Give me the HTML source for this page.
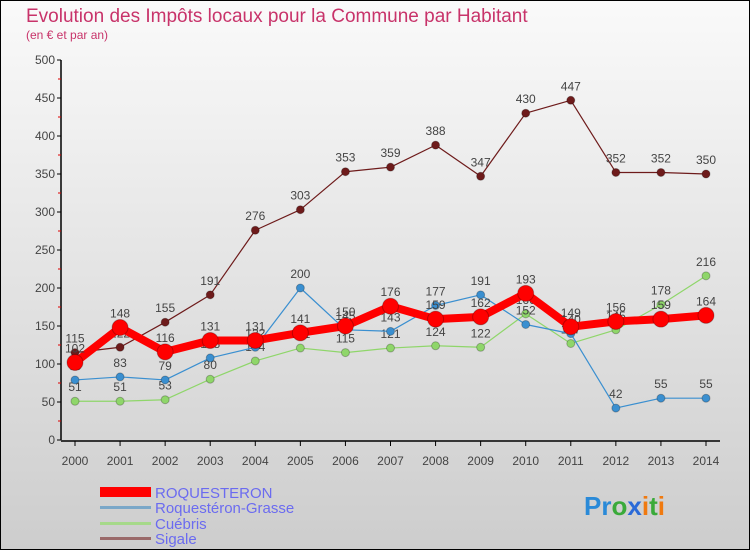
<!DOCTYPE html>
<html><head><meta charset="utf-8"><style>
body{margin:0}
svg{display:block;font-family:"Liberation Sans",sans-serif}
</style></head><body>
<svg width="750" height="550" viewBox="0 0 750 550" xmlns="http://www.w3.org/2000/svg">
<defs><linearGradient id="bg" x1="0" y1="0" x2="0" y2="1"><stop offset="0" stop-color="#fafafa"/><stop offset="1" stop-color="#cdcdcd"/></linearGradient></defs>
<rect x="0.5" y="0.5" width="749" height="549" fill="url(#bg)" stroke="#000"/>
<text x="26" y="22" font-size="19" fill="#c8336a">Evolution des Impôts locaux pour la Commune par Habitant</text>
<text x="26" y="39" font-size="12" fill="#c8336a">(en € et par an)</text>
<g id="axes"></g>
<g id="series"></g>
<g>
<rect x="100" y="487" width="51" height="10" fill="#f00"/>
<text x="155" y="498" font-size="15" fill="#6b6bf0">ROQUESTERON</text>
<rect x="100" y="506" width="51" height="3" fill="#7aa7c8"/>
<text x="155" y="513" font-size="15" fill="#6b6bf0">Roquestéron-Grasse</text>
<rect x="100" y="522" width="51" height="3" fill="#a6d98a"/>
<text x="155" y="529" font-size="15" fill="#6b6bf0">Cuébris</text>
<rect x="100" y="537" width="51" height="3" fill="#9a6a6a"/>
<text x="155" y="544" font-size="15" fill="#6b6bf0">Sigale</text>
</g>
<text x="584" y="515" font-size="26" font-weight="bold"><tspan fill="#2a8ad8">Pr</tspan><tspan fill="#3aaa3a">o</tspan><tspan fill="#2a6ad8">x</tspan><tspan fill="#f07a10">i</tspan><tspan fill="#3aaa3a">t</tspan><tspan fill="#f07a10">i</tspan></text>
</svg>
<script>
const years=["2000","2001","2002","2003","2004","2005","2006","2007","2008","2009","2010","2011","2012","2013","2014"];
const yTicks=[0,50,100,150,200,250,300,350,400,450,500];
const roquesteron=[102,148,116,131,131,141,150,176,159,162,193,149,156,159,164];
const roqGrasse=[79,83,79,108,122,200,145,143,177,191,152,140,42,55,55];
const cuebris=[51,51,53,80,104,121,115,121,124,122,166,127,145,178,216];
const sigale=[115,122,155,191,276,303,353,359,388,347,430,447,352,352,350];
const NS="http://www.w3.org/2000/svg";
const X=i=>75+i*(706-75)/(years.length-1);
const Y=v=>440-v*0.76;
function mk(tag,attrs,parent,txt){const e=document.createElementNS(NS,tag);for(const k in attrs)e.setAttribute(k,attrs[k]);if(txt!==undefined)e.textContent=txt;parent.appendChild(e);return e;}
const ax=document.getElementById('axes');
let yl=mk('line',{x1:61,y1:Y(500),x2:61,y2:Y(0),stroke:'#000','stroke-width':1.5},ax);


let xl=mk('line',{x1:61,y1:Y(0)+1,x2:720,y2:Y(0)+1,stroke:'#000','stroke-width':1.5},ax);


yTicks.forEach((t,i)=>{
 mk('line',{x1:57,y1:Y(t),x2:61,y2:Y(t),stroke:'#000'},ax);
 if(i<yTicks.length-1)mk('line',{x1:58,y1:Y(t+25),x2:61,y2:Y(t+25),stroke:'#d00'},ax);
 const l=mk('text',{x:55,y:Y(t)+4,'font-size':12,fill:'#444','text-anchor':'end'},ax,String(t));
 
 
});
years.forEach((yr,i)=>{
 mk('line',{x1:X(i),y1:Y(0)+1,x2:X(i),y2:Y(0)+6,stroke:'#000'},ax);
 const l=mk('text',{x:X(i),y:465,'font-size':12,fill:'#444','text-anchor':'middle'},ax,yr);
 
 
});
const sg=document.getElementById('series');
function draw(data,name,color,w,r,above){
 const g=mk('g',{},sg);
 
 
 const p=mk('polyline',{points:data.map((v,i)=>X(i)+','+Y(v)).join(' '),fill:'none',stroke:color,'stroke-width':w,'stroke-linejoin':'round'},g);
 
 
 data.forEach((v,i)=>{
  const c=mk('circle',{cx:X(i),cy:Y(v),r:r,fill:color,stroke:'rgba(0,0,0,0.25)'},g);
  
  
  const t=mk('text',{x:X(i),y:Y(v)+(above?-10:-8),'font-size':12,fill:'#444','text-anchor':'middle'},g,String(v));
  
  
 });
}
draw(sigale,'sigale','#6e1b1b',1.2,4,true);
draw(cuebris,'cuebris','#8fd66a',1.2,4,true);
draw(roqGrasse,'roquesteron-grasse','#3a8fd0',1.2,4,true);
draw(roquesteron,'roquesteron','#f00',8,8,true);
</script>
</body></html>
